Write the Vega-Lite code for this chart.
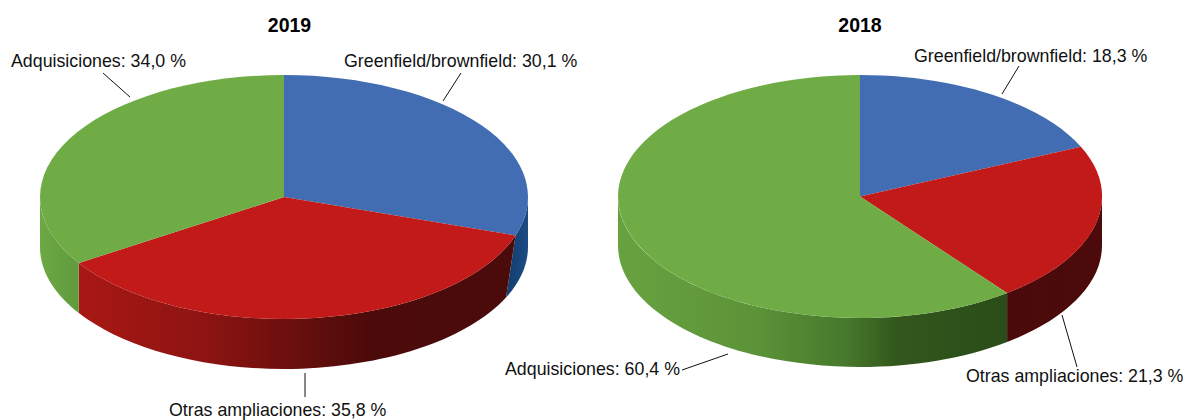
{"$schema":"https://vega.github.io/schema/vega-lite/v6.json","width":1183,"height":420,"padding":0,"autosize":{"type":"fit","contains":"padding"},"background":"white","config":{"view":{"stroke":null}},
"datasets":{"pies":[
{"id":"2019-G","anio":"2019","categoria":"Greenfield/brownfield","valor":30.1,"etiqueta":"Greenfield/brownfield: 30,1 %"},
{"id":"2019-O","anio":"2019","categoria":"Otras ampliaciones","valor":35.8,"etiqueta":"Otras ampliaciones: 35,8 %"},
{"id":"2019-A","anio":"2019","categoria":"Adquisiciones","valor":34.0,"etiqueta":"Adquisiciones: 34,0 %"},
{"id":"2018-G","anio":"2018","categoria":"Greenfield/brownfield","valor":18.3,"etiqueta":"Greenfield/brownfield: 18,3 %"},
{"id":"2018-O","anio":"2018","categoria":"Otras ampliaciones","valor":21.3,"etiqueta":"Otras ampliaciones: 21,3 %"},
{"id":"2018-A","anio":"2018","categoria":"Adquisiciones","valor":60.4,"etiqueta":"Adquisiciones: 60,4 %"}],
"anios":[{"anio":"2019"},{"anio":"2018"}]},
"data":{"name":"pies"},
"encoding":{"x":{"field":"anio","type":"nominal","axis":null,"scale":{"domain":["2019","2018"],"range":[284,860],"padding":0}}},
"resolve":{"scale":{"shape":"independent"}},
"layer":[
{"transform":[{"filter":"datum.id==='2019-G'"}],"mark":{"type":"point","filled":true,"opacity":1,"size":4,"strokeWidth":0,"shape":"M244,-13 A244,122 0 0 1 231.6,25.4 L222,87.6 A244,122 0 0 0 244,37 Z","fill":{"gradient":"linear","x1":0,"y1":0,"x2":1,"y2":0,"stops":[{"offset":0,"color":"#123d6e"},{"offset":1,"color":"#1c4c84"}]}}},
{"transform":[{"filter":"datum.id==='2019-O'"}],"mark":{"type":"point","filled":true,"opacity":1,"size":4,"strokeWidth":0,"shape":"M231.6,25.4 A244,122 0 0 1 -205.2,53 L-205.2,103 A244,122 0 0 0 222,87.6 Z","fill":{"gradient":"linear","x1":0,"y1":0,"x2":1,"y2":0,"stops":[{"offset":0,"color":"#a81814"},{"offset":0.28,"color":"#8e1412"},{"offset":0.48,"color":"#6c0f0e"},{"offset":0.66,"color":"#4c0b0a"},{"offset":1,"color":"#4a0b0a"}]}}},
{"transform":[{"filter":"datum.id==='2019-A'"}],"mark":{"type":"point","filled":true,"opacity":1,"size":4,"strokeWidth":0,"shape":"M-205.2,53 A244,122 0 0 1 -244,-13 L-244,37 A244,122 0 0 0 -205.2,103 Z","fill":{"gradient":"linear","x1":0,"y1":0,"x2":1,"y2":0,"stops":[{"offset":0,"color":"#6ca843"},{"offset":1,"color":"#5f9b3c"}]}}},
{"transform":[{"filter":"datum.id==='2018-O'"}],"mark":{"type":"point","filled":true,"opacity":1,"size":4,"strokeWidth":0,"shape":"M242,-13.5 A242,121.5 0 0 1 147.1,83 L147.1,132 A242,121.5 0 0 0 242,35.5 Z","fill":{"gradient":"linear","x1":0,"y1":0,"x2":1,"y2":0,"stops":[{"offset":0,"color":"#4a0a0b"},{"offset":1,"color":"#4c0b0a"}]}}},
{"transform":[{"filter":"datum.id==='2018-A'"}],"mark":{"type":"point","filled":true,"opacity":1,"size":4,"strokeWidth":0,"shape":"M147.1,83 A242,121.5 0 0 1 -242,-13.5 L-242,35.5 A242,121.5 0 0 0 147.1,132 Z","fill":{"gradient":"linear","x1":0,"y1":0,"x2":1,"y2":0,"stops":[{"offset":0,"color":"#68a240"},{"offset":0.35,"color":"#5c9338"},{"offset":0.58,"color":"#477a2c"},{"offset":0.72,"color":"#32561c"},{"offset":1,"color":"#2a4d19"}]}}},
{"mark":{"type":"point","filled":true,"opacity":1,"size":4,"strokeWidth":0},
"encoding":{
"shape":{"field":"id","type":"nominal","legend":null,"scale":{"domain":["2019-G","2019-O","2019-A","2018-G","2018-O","2018-A"],"range":[
"M0,-13 L0,-135 A244,122 0 0 1 231.6,25.4 Z",
"M0,-13 L231.6,25.4 A244,122 0 0 1 -205.2,53 Z",
"M0,-13 L-205.2,53 A244,122 0 0 1 0,-135 Z",
"M0,-13.5 L0,-135 A242,121.5 0 0 1 220.9,-63.2 Z",
"M0,-13.5 L220.9,-63.2 A242,121.5 0 0 1 147.1,83 Z",
"M0,-13.5 L147.1,83 A242,121.5 0 1 1 0,-135 Z"]}},
"color":{"field":"categoria","type":"nominal","legend":null,"scale":{"domain":["Greenfield/brownfield","Otras ampliaciones","Adquisiciones"],"range":["#426db3","#c11a18","#6fac46"]}}}},
{"mark":{"type":"point","filled":false,"opacity":1,"size":4,"stroke":"#111111","strokeWidth":1},
"encoding":{
"shape":{"field":"id","type":"nominal","legend":null,"scale":{"domain":["2019-G","2019-O","2019-A","2018-G","2018-O","2018-A"],"range":[
"M177,-137 L159,-109",
"M21,163 L21,187",
"M-181,-137 L-154,-113",
"M159,-144 L142,-116",
"M202,105 L217,157",
"M-178,160 L-132,144"]}}}},
{"transform":[{"filter":"datum.id==='2019-G'"}],"mark":{"type":"text","align":"left","baseline":"alphabetic","font":"Liberation Sans","fontSize":17.8,"fill":"#111111","dx":60,"dy":-143},"encoding":{"text":{"field":"etiqueta"}}},
{"transform":[{"filter":"datum.id==='2019-O'"}],"mark":{"type":"text","align":"left","baseline":"alphabetic","font":"Liberation Sans","fontSize":17.8,"fill":"#111111","dx":-115,"dy":206},"encoding":{"text":{"field":"etiqueta"}}},
{"transform":[{"filter":"datum.id==='2019-A'"}],"mark":{"type":"text","align":"left","baseline":"alphabetic","font":"Liberation Sans","fontSize":17.8,"fill":"#111111","dx":-273,"dy":-143},"encoding":{"text":{"field":"etiqueta"}}},
{"transform":[{"filter":"datum.id==='2018-G'"}],"mark":{"type":"text","align":"left","baseline":"alphabetic","font":"Liberation Sans","fontSize":17.8,"fill":"#111111","dx":54,"dy":-148},"encoding":{"text":{"field":"etiqueta"}}},
{"transform":[{"filter":"datum.id==='2018-O'"}],"mark":{"type":"text","align":"left","baseline":"alphabetic","font":"Liberation Sans","fontSize":17.8,"fill":"#111111","dx":106,"dy":172},"encoding":{"text":{"field":"etiqueta"}}},
{"transform":[{"filter":"datum.id==='2018-A'"}],"mark":{"type":"text","align":"left","baseline":"alphabetic","font":"Liberation Sans","fontSize":17.8,"fill":"#111111","dx":-355,"dy":165},"encoding":{"text":{"field":"etiqueta"}}},
{"data":{"name":"anios"},"transform":[{"filter":"datum.anio==='2019'"}],"mark":{"type":"text","align":"center","baseline":"alphabetic","font":"Liberation Sans","fontSize":19.5,"fontWeight":"bold","fill":"#000000","dx":5.5,"dy":-178},"encoding":{"text":{"field":"anio"}}},
{"data":{"name":"anios"},"transform":[{"filter":"datum.anio==='2018'"}],"mark":{"type":"text","align":"center","baseline":"alphabetic","font":"Liberation Sans","fontSize":19.5,"fontWeight":"bold","fill":"#000000","dy":-178},"encoding":{"text":{"field":"anio"}}}
]}
